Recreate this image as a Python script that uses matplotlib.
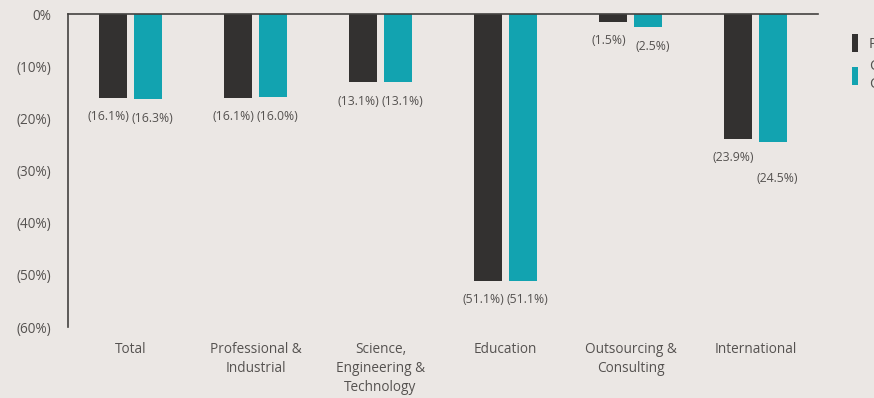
import matplotlib.pyplot as plt
import numpy as np

categories = ["Total", "Professional &\nIndustrial", "Science,\nEngineering &\nTechnology",
              "Education", "Outsourcing &\nConsulting", "International"]
reported = [-16.1, -16.1, -13.1, -51.1, -1.5, -23.9]
constant_currency = [-16.3, -16.0, -13.1, -51.1, -2.5, -24.5]
y_ticks = [0, -10, -20, -30, -40, -50, -60]
y_tick_labels = ["0%", "(10%)", "(20%)", "(30%)", "(40%)", "(50%)", "(60%)"]

BG = "#ebe7e4"
DARK = "#333130"
TEAL = "#12a3b0"
TEXT = "#555250"

plt.rcParams['font.family'] = ['Open Sans', 'DejaVu Sans']

fig = plt.figure(figsize=(8.74, 3.98), dpi=100, facecolor=BG)
ax = fig.add_axes([68 / 874, 1 - 327 / 398, 750 / 874, 313 / 398])
ax.set_facecolor(BG)

x = np.arange(len(categories))
w = 0.224
off = 0.142
b1 = ax.bar(x - off, reported, w, color=DARK, label="Pro forma")
b2 = ax.bar(x + off, constant_currency, w, color=TEAL, label="Constant\nCurrency")


def fmt(v):
    return f"({abs(v):.1f}%)"


# extra push down for labels that would otherwise collide
extra = {(1, 5): 13}
for series, bars, vals in ((0, b1, reported), (1, b2, constant_currency)):
    dx = -3 if series == 0 else 3
    for i, (bar, v) in enumerate(zip(bars, vals)):
        dy = -9 - extra.get((series, i), 0)
        ax.annotate(fmt(v), (bar.get_x() + bar.get_width() / 2, v),
                    xytext=(dx, dy), textcoords="offset points",
                    ha="center", va="top", fontsize=8.8, color=TEXT)

ax.set_xlim(-0.5, 5.5)
ax.set_ylim(-60, 0)
ax.set_yticks(y_ticks)
ax.set_yticklabels(y_tick_labels)
ax.set_xticks(x)
ax.set_xticklabels(categories, fontsize=9.8, color=TEXT, linespacing=1.35)
ax.tick_params(axis="y", length=0, pad=12, labelsize=9.8, labelcolor=TEXT)
ax.tick_params(axis="x", length=0, pad=11)

for s in ("bottom", "right"):
    ax.spines[s].set_visible(False)
for s in ("top", "left"):
    ax.spines[s].set_color("#444240")
    ax.spines[s].set_linewidth(1.2)

ax.legend(loc="upper left", bbox_to_anchor=(845 / 874, 1 - 27 / 398),
          bbox_transform=fig.transFigure, frameon=False, fontsize=10.5,
          handlelength=0.4, handleheight=1.5, handletextpad=0.75,
          labelspacing=0.5, borderpad=0, labelcolor=TEXT)

fig.savefig("out.png", dpi=100, facecolor=BG)
